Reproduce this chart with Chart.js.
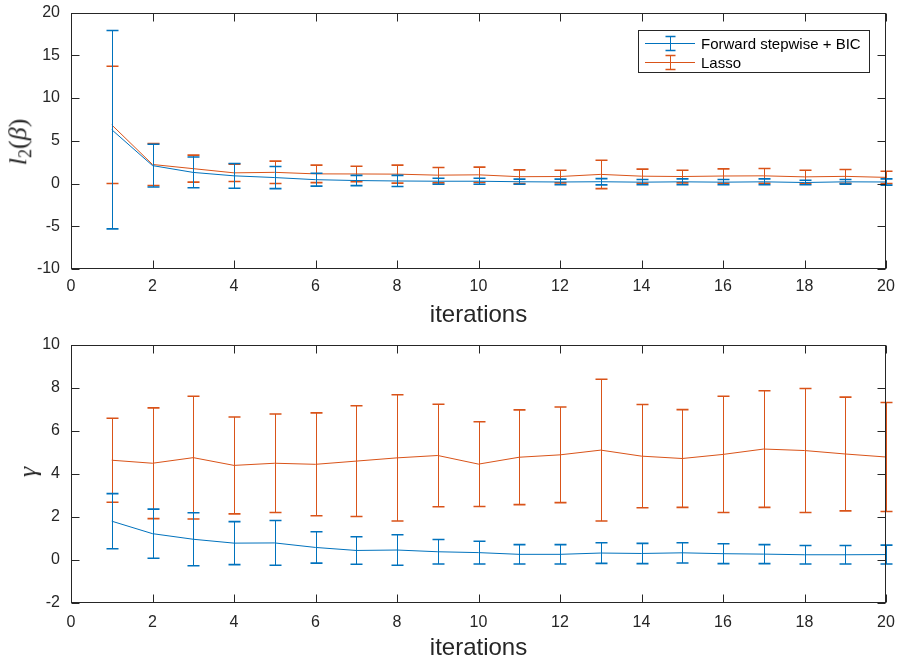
<!DOCTYPE html>
<html lang="en">

<head>
    <meta charset="UTF-8">
    <title>Forward stepwise vs Lasso</title>
    <script src="https://cdn.jsdelivr.net/npm/chart.js@4.4.0/dist/chart.umd.min.js"></script>
    <style>
        body { margin: 0; background: #fff; }
        #wrap { position: relative; width: 901px; height: 664px; }
        canvas { position: absolute; left: 0; }
        .ylab {
            position: absolute;
            font-family: "Liberation Serif", serif;
            font-size: 26px;
            color: #262626;
            white-space: nowrap;
            transform: translate(-50%, -50%) rotate(-90deg);
        }
        .ylab sub { font-size: 0.7em; font-style: normal; vertical-align: -0.3em; }
    </style>
</head>

<body>
    <div id="wrap">
        <canvas id="top" width="901" height="332" style="top:0"></canvas>
        <canvas id="bottom" width="901" height="332" style="top:332px"></canvas>
        <div class="ylab" style="left:20px; top:142px"><i>l</i><sub>2</sub>(<i>β</i>)</div>
        <div class="ylab" style="left:28px; top:472px"><i>γ</i></div>
    </div>
    <script>

        const iterations = [1, 2, 3, 4, 5, 6, 7, 8, 9, 10, 11, 12, 13, 14, 15, 16, 17, 18, 19, 20];
        const seriesNames = ["Forward stepwise + BIC", "Lasso"];

        // l2(beta): mean and half-width of the error bar
        const fsL2 = [6.3, 2.1, 1.3, 0.9, 0.7, 0.45, 0.35, 0.3, 0.27, 0.27, 0.21, 0.18, 0.21, 0.16, 0.2, 0.16, 0.2, 0.12, 0.2, 0.18];
        const fsL2Err = [11.6, 2.5, 1.8, 1.45, 1.3, 0.75, 0.6, 0.65, 0.35, 0.35, 0.3, 0.33, 0.37, 0.31, 0.35, 0.31, 0.35, 0.27, 0.27, 0.37];
        const lassoL2 = [6.86, 2.23, 1.74, 1.25, 1.31, 1.13, 1.12, 1.1, 0.98, 1.02, 0.8, 0.82, 1.07, 0.86, 0.82, 0.88, 0.9, 0.78, 0.84, 0.72];
        const lassoL2Err = [6.86, 2.46, 1.58, 1.02, 1.31, 1.02, 0.9, 1.05, 0.9, 0.9, 0.8, 0.74, 1.66, 0.82, 0.74, 0.84, 0.86, 0.78, 0.8, 0.72];

        // gamma
        const fsGamma = [1.8, 1.22, 0.96, 0.78, 0.79, 0.58, 0.44, 0.46, 0.38, 0.34, 0.26, 0.26, 0.32, 0.3, 0.33, 0.29, 0.27, 0.24, 0.24, 0.25];
        const fsGammaErr = [1.28, 1.14, 1.23, 1.0, 1.04, 0.73, 0.64, 0.71, 0.57, 0.53, 0.45, 0.45, 0.48, 0.47, 0.47, 0.46, 0.44, 0.43, 0.43, 0.44];
        const lassoGamma = [4.63, 4.49, 4.75, 4.39, 4.49, 4.44, 4.59, 4.74, 4.85, 4.45, 4.77, 4.88, 5.1, 4.82, 4.71, 4.9, 5.15, 5.08, 4.92, 4.78];
        const lassoGammaErr = [1.95, 2.57, 2.85, 2.25, 2.29, 2.39, 2.57, 2.93, 2.38, 1.97, 2.2, 2.22, 3.29, 2.4, 2.27, 2.7, 2.71, 2.88, 2.64, 2.53];

        const BLUE = "#0072BD";
        const ORANGE = "#D95319";
        const AXIS = "#262626";
        const FONT = "'Liberation Sans', Arial, sans-serif";

        // vertical error bars drawn right after each line, like matlab errorbar()
        const errorBars = {
            id: "errorBars",
            afterDatasetDraw(chart, args) {
                const ds = chart.data.datasets[args.index];
                if (!ds.errors) return;
                const ctx = chart.ctx;
                const xs = chart.scales.x, ys = chart.scales.y;
                ctx.save();
                ctx.strokeStyle = ds.borderColor;
                ds.data.forEach((p, i) => {
                    const x = Math.round(xs.getPixelForValue(p.x)) + 0.5;
                    const hi = ys.getPixelForValue(p.y + ds.errors[i]);
                    const lo = ys.getPixelForValue(p.y - ds.errors[i]);
                    ctx.lineWidth = 1;
                    ctx.beginPath();
                    ctx.moveTo(x, hi);
                    ctx.lineTo(x, lo);
                    ctx.stroke();
                    ctx.lineWidth = 1.6;
                    ctx.beginPath();
                    ctx.moveTo(x - 6, hi); ctx.lineTo(x + 6, hi);
                    ctx.moveTo(x - 6, lo); ctx.lineTo(x + 6, lo);
                    ctx.stroke();
                });
                ctx.restore();
            }
        };

        // box around the axes with inward ticks on all four sides
        const axesBox = {
            id: "axesBox",
            afterDraw(chart) {
                const { ctx, chartArea: a, scales } = chart;
                const L = Math.round(a.left) + 0.5, R = Math.round(a.right) - 0.5;
                const T = Math.round(a.top) + 0.5, B = Math.round(a.bottom) - 0.5;
                ctx.save();
                ctx.strokeStyle = AXIS;
                ctx.lineWidth = 1;
                ctx.strokeRect(L, T, R - L, B - T);
                ctx.beginPath();
                scales.x.ticks.forEach(t => {
                    const x = Math.round(scales.x.getPixelForValue(t.value)) + 0.5;
                    ctx.moveTo(x, B); ctx.lineTo(x, B - 8);
                    ctx.moveTo(x, T); ctx.lineTo(x, T + 8);
                });
                scales.y.ticks.forEach(t => {
                    const y = Math.round(scales.y.getPixelForValue(t.value)) + 0.5;
                    ctx.moveTo(L, y); ctx.lineTo(L + 8, y);
                    ctx.moveTo(R, y); ctx.lineTo(R - 8, y);
                });
                ctx.stroke();
                ctx.restore();
            }
        };

        // matlab style legend box in the upper right corner
        const boxLegend = {
            id: "boxLegend",
            afterDraw(chart, args, opts) {
                if (!opts.show) return;
                const ctx = chart.ctx;
                const left = 638.5, top = 30.5, w = 231, h = 42;
                ctx.save();
                ctx.fillStyle = "#fff";
                ctx.fillRect(left, top, w, h);
                ctx.strokeStyle = AXIS;
                ctx.lineWidth = 1;
                ctx.strokeRect(left, top, w, h);
                ctx.font = "15px " + FONT;
                ctx.textBaseline = "middle";
                chart.data.datasets.forEach((ds, i) => {
                    const y = Math.round(43 + i * 19) + 0.5;
                    ctx.strokeStyle = ds.borderColor;
                    ctx.lineWidth = 1;
                    ctx.beginPath();
                    ctx.moveTo(645, y); ctx.lineTo(695, y);
                    ctx.moveTo(670.5, y - 7); ctx.lineTo(670.5, y + 7);
                    ctx.stroke();
                    ctx.lineWidth = 1.6;
                    ctx.beginPath();
                    ctx.moveTo(665.5, y - 7); ctx.lineTo(675.5, y - 7);
                    ctx.moveTo(665.5, y + 7); ctx.lineTo(675.5, y + 7);
                    ctx.stroke();
                    ctx.fillStyle = "#000";
                    ctx.fillText(ds.label, 701, y + 1);
                });
                ctx.restore();
            }
        };

        function points(ys) {
            return iterations.map((x, i) => ({ x: x, y: ys[i] }));
        }

        function makeChart(id, blue, blueErr, red, redErr, yMin, yMax, yStep, cfg) {
            const ctx = document.getElementById(id).getContext("2d");
            return new Chart(ctx, {
                type: "line",
                data: {
                    datasets: [
                        { label: seriesNames[0], data: points(blue), errors: blueErr, borderColor: BLUE, borderWidth: 1, pointRadius: 0, tension: 0, fill: false },
                        { label: seriesNames[1], data: points(red), errors: redErr, borderColor: ORANGE, borderWidth: 1, pointRadius: 0, tension: 0, fill: false }
                    ]
                },
                options: {
                    responsive: false,
                    animation: false,
                    devicePixelRatio: 1,
                    layout: { padding: { top: cfg.top, right: 15, left: 0, bottom: 0 } },
                    plugins: {
                        legend: { display: false },
                        tooltip: { enabled: false },
                        boxLegend: { show: cfg.legend }
                    },
                    scales: {
                        x: {
                            type: "linear", min: 0, max: 20,
                            ticks: { stepSize: 2, color: AXIS, font: { family: FONT, size: 16 }, padding: cfg.tickPad, maxRotation: 0 },
                            grid: { display: false },
                            border: { display: false },
                            title: {
                                display: true, text: "iterations", color: AXIS,
                                font: { family: FONT, size: 24, lineHeight: 1 },
                                padding: { top: 0, bottom: cfg.titlePad }
                            },
                            afterFit: s => { s.height = cfg.xHeight; }
                        },
                        y: {
                            min: yMin, max: yMax,
                            ticks: { stepSize: yStep, color: AXIS, font: { family: FONT, size: 16 }, padding: 3 },
                            grid: { display: false },
                            border: { display: false },
                            afterFit: s => { s.width = 71; }
                        }
                    }
                },
                plugins: [errorBars, axesBox, boxLegend]
            });
        }

        makeChart("top", fsL2, fsL2Err, lassoL2, lassoL2Err, -10, 20, 5,
            { top: 6, xHeight: 63, titlePad: 5, tickPad: 0, legend: true });
        makeChart("bottom", fsGamma, fsGammaErr, lassoGamma, lassoGammaErr, -2, 10, 2,
            { top: 8, xHeight: 61, titlePad: 4, tickPad: 2, legend: false });

    </script>
</body>

</html>
